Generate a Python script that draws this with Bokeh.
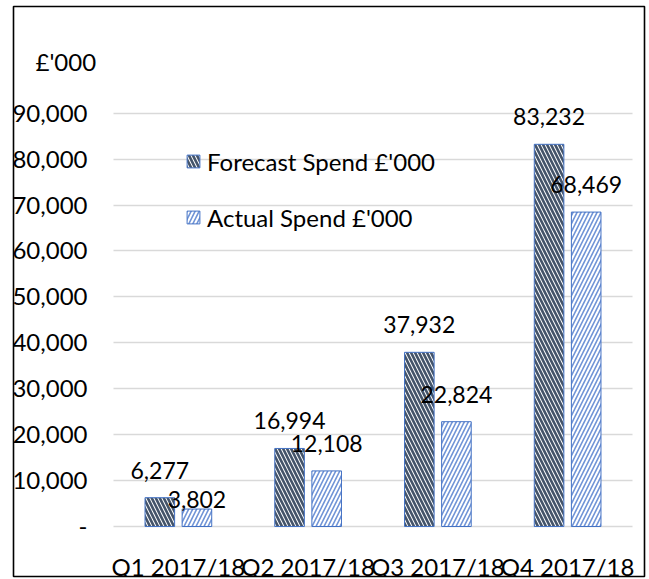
from bokeh.plotting import figure
from bokeh.models import (ColumnDataSource, Range1d, FixedTicker, NumeralTickFormatter,
                          LabelSet, Label, Legend, LegendItem, Grid)
from bokeh.transform import dodge
from bokeh.core.properties import value
from bokeh.embed import file_html
from bokeh.resources import INLINE

# ---- data ----
quarters = ["Q1 2017/18", "Q2 2017/18", "Q3 2017/18", "Q4 2017/18"]
forecast_spend = [6277, 16994, 37932, 83232]
actual_spend = [3802, 12108, 22824, 68469]
series_names = ["Forecast Spend £'000", "Actual Spend £'000"]
y_ticks = [0, 10000, 20000, 30000, 40000, 50000, 60000, 70000, 80000, 90000]
unit_label = "£'000"

FONT = "Lato"
W, H = 649, 579

# ---- layout geometry (pixels) ----
BOX_L, BOX_R, BOX_T, BOX_B = 13, 644, 6, 576      # outer chart box = bokeh frame
PLOT_L, CAT_PX = 113, 129.75                       # plot area left edge, px per category
Y0_PX, PX_PER_Y = 526, 45.92 / 10000               # pixel row of y=0, px per unit

def x_of(px):
    return (px - PLOT_L) / CAT_PX

def y_of(py):
    return (Y0_PX - py) / PX_PER_Y

n = len(quarters)
xc = [i + 0.5 for i in range(n)]

src = ColumnDataSource(dict(
    xc=xc,
    forecast=forecast_spend,
    actual=actual_spend,
    f_lbl=[f"{v:,}" for v in forecast_spend],
    a_lbl=[f"{v:,}" for v in actual_spend],
))
# label offsets (pixels above bar top); first actual label sits lower to avoid overlap
src.data["f_dy"] = [27.5] * n
src.data["a_dy"] = [9.5] + [27.5] * (n - 1)

p = figure(x_range=Range1d(x_of(BOX_L), x_of(BOX_R)),
           y_range=Range1d(y_of(BOX_B), y_of(BOX_T)),
           width=W, height=H, output_backend="svg", toolbar_location=None,
           min_border_left=BOX_L, min_border_right=W - BOX_R,
           min_border_top=BOX_T, min_border_bottom=H - BOX_B)

p.background_fill_color = "white"
p.border_fill_color = "white"
p.outline_line_color = "black"
p.outline_line_width = 1.6

OFF = 0.143
BW = 0.228

rf = p.vbar(x=dodge("xc", -OFF), top="forecast", width=BW, bottom=0, source=src,
            fill_color="white", line_color="#4472C4", line_width=1,
            hatch_pattern="left_diagonal_line", hatch_color="#44546A",
            hatch_scale=8, hatch_weight=2.6)
ra = p.vbar(x=dodge("xc", OFF), top="actual", width=BW, bottom=0, source=src,
            fill_color="white", line_color="#4472C4", line_width=1,
            hatch_pattern="right_diagonal_line", hatch_color="#6F93D6",
            hatch_scale=8, hatch_weight=1.6)

lbl_common = dict(text_font=value(FONT), text_font_size="23px", text_align="center",
                  text_baseline="middle", text_color="black", source=src)
p.add_layout(LabelSet(x=dodge("xc", -OFF), y="forecast", text="f_lbl", y_offset="f_dy", **lbl_common))
p.add_layout(LabelSet(x=dodge("xc", OFF), y="actual", text="a_lbl", y_offset="a_dy", **lbl_common))

# unit label above the value axis
p.add_layout(Label(x=x_of(35), y=y_of(61), text=unit_label, text_font=FONT,
                   text_font_size="24px", text_align="left", text_baseline="middle",
                   text_color="black"))

# axes drawn inside the frame
p.yaxis.fixed_location = 0
p.xaxis.fixed_location = 0
p.yaxis.ticker = FixedTicker(ticks=y_ticks)
p.yaxis.formatter = NumeralTickFormatter(format="0,0")
p.yaxis.major_label_overrides = {0: "-"}
p.xaxis.ticker = FixedTicker(ticks=xc)
p.xaxis.major_label_overrides = {x: q for x, q in zip(xc, quarters)}
for ax in (p.xaxis, p.yaxis):
    ax.axis_line_color = None
    ax.major_tick_line_color = None
    ax.minor_tick_line_color = None
    ax.major_tick_out = 0
    ax.major_tick_in = 0
    ax.major_label_text_font = FONT
    ax.major_label_text_font_size = "24px"
    ax.major_label_text_color = "black"
p.yaxis.major_label_standoff = 26
p.xaxis.major_label_standoff = 25

p.xgrid.grid_line_color = None
p.ygrid.grid_line_color = "#D9D9D9"
p.ygrid.grid_line_width = 1.4
if "cross_bounds" in Grid.properties():
    p.ygrid.cross_bounds = (0, n)

legend = Legend(items=[LegendItem(label=series_names[0], renderers=[rf]),
                       LegendItem(label=series_names[1], renderers=[ra])],
                location=(185 - BOX_L, BOX_B - 231.5), orientation="vertical",
                glyph_width=16, glyph_height=16, label_height=29,
                label_standoff=6, spacing=27, padding=0, margin=0,
                label_text_font=FONT, label_text_font_size="24px", label_text_color="black",
                border_line_color=None, background_fill_alpha=0)
p.add_layout(legend)

open("out.html", "w").write(file_html(p, INLINE))
